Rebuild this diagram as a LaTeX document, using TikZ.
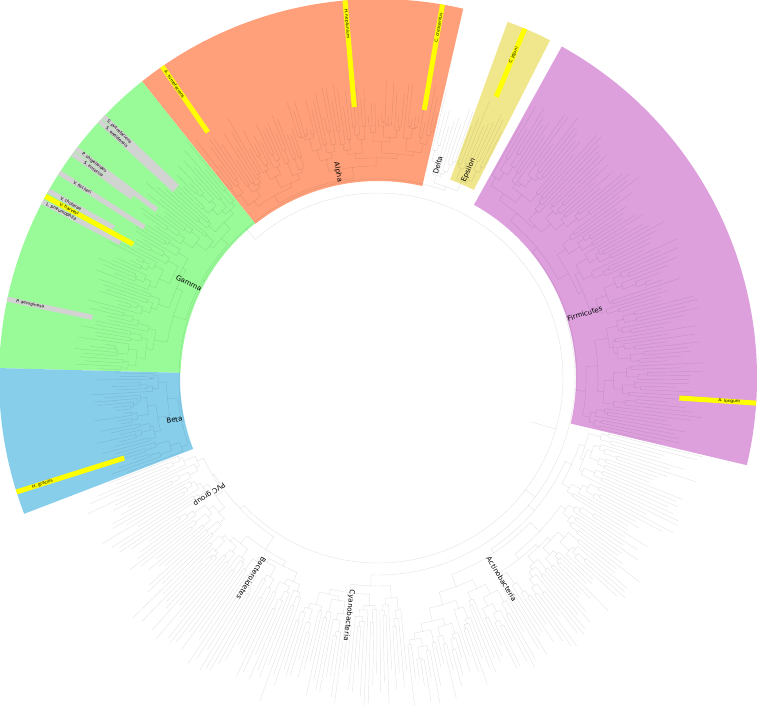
\documentclass[tikz,border=0pt]{standalone}
\usepackage{fontspec}
\setmainfont{DejaVu Sans}
\definecolor{firm}{HTML}{DDA0DD}
\definecolor{eps}{HTML}{F0E68C}
\definecolor{alph}{HTML}{FFA07A}
\definecolor{gam}{HTML}{98FB98}
\definecolor{bet}{HTML}{87CEEB}
\definecolor{hly}{HTML}{FFFF00}
\definecolor{hlg}{HTML}{D3D3D3}
\tikzset{
  tl/.style={draw=black, draw opacity=0.10, line width=0.45pt},
  sp/.style={font=\fontsize{4.3}{5}\selectfont, inner sep=0pt},
  cl/.style={font=\fontsize{7}{8}\selectfont, inner sep=0.5pt},
}
\newcommand\Tmin{280}
\newcommand\Tmax{320}
\newcommand\setTips[2]{\gdef\Tmin{#1}\gdef\Tmax{#2}}
% #1 start angle, #2 step, #3 leaves, #4 parent radius, #5 own radius
\newcommand\subtree[5]{%
  \begingroup
  \edef\pA{#1}\edef\pS{#2}\edef\pN{#3}\edef\pP{#4}\edef\pR{#5}%
  \ifnum\pN=1\relax
    \pgfmathsetmacro\ang{\pA+0.5*(\pS)}%
    \pgfmathsetmacro\tip{max(\pR,\pP+4)}%
    \draw[tl] (\ang:\pP pt) -- (\ang:\tip pt);
    \xdef\retang{\ang}%
  \else
    \pgfmathtruncatemacro\kk{max(1,min(\pN-1,round(\pN*(0.2+0.6*rnd))))}%
    \pgfmathtruncatemacro\mm{\pN-\kk}%
    \pgfmathsetmacro\aR{\pA+\kk*(\pS)}%
    \ifnum\kk=1\relax
      \pgfmathsetmacro\rL{\Tmin+(\Tmax-\Tmin)*rnd}%
    \else
      \pgfmathsetmacro\rL{max(\pR+1.5,min(\pR+3+11*rnd,\Tmin-6))}%
    \fi
    \ifnum\mm=1\relax
      \pgfmathsetmacro\rRR{\Tmin+(\Tmax-\Tmin)*rnd}%
    \else
      \pgfmathsetmacro\rRR{max(\pR+1.5,min(\pR+3+11*rnd,\Tmin-6))}%
    \fi
    \subtree{\pA}{\pS}{\kk}{\pR}{\rL}%
    \let\angL\retang
    \subtree{\aR}{\pS}{\mm}{\pR}{\rRR}%
    \let\angR\retang
    \draw[tl] (\angL:\pR pt) arc[start angle=\angL, end angle=\angR, radius=\pR pt];
    \pgfmathsetmacro\ang{0.5*(\angL+\angR)}%
    \draw[tl] (\ang:\pP pt) -- (\ang:\pR pt);
    \xdef\retang{\ang}%
  \fi
  \endgroup}
\newcommand\cladewedge[4]{\fill[#4] (#1:#3pt) arc[start angle=#1, end angle=#2, radius=#3pt] -- (#2:379pt) arc[start angle=#2, end angle=#1, radius=379pt] -- cycle;}
\newcommand\hlbar[3]{\draw[#3, line width=5pt] (#1:#2pt) -- (#1:379pt);}
\newcommand\labin[5]{\pgfmathsetmacro\rr{#2-180}\node[#5, anchor=east, rotate=\rr] (#1) at (#2:#3pt) {#4};}
\newcommand\labout[5]{\node[#5, anchor=west, rotate=#2] (#1) at (#2:#3pt) {#4};}
\begin{document}
\begin{tikzpicture}
\useasboundingbox (-378pt,-328pt) rectangle (379pt,378pt);
\fill[white] (-378pt,-328pt) rectangle (379pt,378pt);
% clade wedges
\cladewedge{-13.3}{61}{198}{firm}
\cladewedge{63}{70}{211}{eps}
\cladewedge{77}{128.5}{197}{alph}
\cladewedge{128.5}{178.5}{197.5}{gam}
\cladewedge{178.5}{201}{198}{bet}
% tree
\pgfmathsetseed{4242}
\setTips{290}{330}\subtree{-13.3}{0.743}{100}{197}{199}\global\let\angFirm\retang
\setTips{290}{335}\subtree{276}{0.7365}{96}{197}{205}\global\let\angActi\retang
\setTips{290}{330}\subtree{251}{0.735}{34}{197}{208}\global\let\angCyan\retang
\setTips{300}{345}\subtree{224}{0.75}{36}{190}{205}\global\let\angBact\retang
\setTips{280}{325}\subtree{201}{0.742}{31}{190}{192}\global\let\angPVC\retang
\setTips{255}{292}\subtree{178.5}{0.75}{30}{199}{201}\global\let\angBeta\retang
\setTips{268}{305}\subtree{128.5}{0.735}{68}{199}{201}\global\let\angGamm\retang
\setTips{258}{300}\subtree{77}{0.7357}{70}{199}{201}\global\let\angAlph\retang
\setTips{260}{300}\subtree{70}{0.778}{9}{203}{211}\global\let\angDelt\retang
\setTips{262}{302}\subtree{63}{0.778}{9}{203}{214}\global\let\angEpsi\retang
% upper levels
\pgfmathsetmacro\aDE{0.5*(\angDelt+\angEpsi)}
\draw[tl] (\angEpsi:203pt) arc[start angle=\angEpsi, end angle=\angDelt, radius=203pt];
\draw[tl] (\aDE:199pt) -- (\aDE:203pt);
\pgfmathsetmacro\aP{0.5*(\aDE+\angBeta)}
\draw[tl] (\aDE:199pt) arc[start angle=\aDE, end angle=\angBeta, radius=199pt];
\draw[tl] (\aP:185pt) -- (\aP:199pt);
\pgfmathsetmacro\aPB{0.5*(\angPVC+\angBact)}
\draw[tl] (\angPVC:190pt) arc[start angle=\angPVC, end angle=\angBact, radius=190pt];
\draw[tl] (\aPB:185pt) -- (\aPB:190pt);
\pgfmathsetmacro\aFq{\angFirm+360}
\pgfmathsetmacro\aQ{0.5*(\angCyan+\aFq)}
\draw[tl] (\angCyan:197pt) arc[start angle=\angCyan, end angle=\aFq, radius=197pt];
\draw[tl] (\aQ:185pt) -- (\aQ:197pt);
\pgfmathsetmacro\aPp{\aP+360}
\draw[tl] (\aPB:185pt) arc[start angle=\aPB, end angle=\aPp, radius=185pt];
\draw[tl] (344:160pt) -- (344:185pt);
% highlighted leaves
\hlbar{136.4}{277}{hlg}
\hlbar{137.3}{277}{hlg}
\hlbar{142.8}{278}{hlg}
\hlbar{143.7}{305}{hlg}
\hlbar{147.2}{278}{hlg}
\hlbar{150.4}{304}{hlg}
\hlbar{152.3}{291}{hlg}
\hlbar{168.0}{292}{hlg}
\hlbar{151.35}{279}{hly}
\hlbar{124.7}{299}{hly}
\hlbar{95.0}{272}{hly}
\hlbar{80.2}{272}{hly}
\hlbar{67.2}{305}{hly}
\hlbar{-3.8}{302}{hly}
\hlbar{197.5}{266}{hly}
% species labels
\labin{sput}{136.4}{341}{S. putrefaciens}{sp}
\labin{sone}{137.3}{341}{S. oneidensis}{sp}
\labin{pshi}{142.8}{341}{P. shigelloides}{sp}
\labin{sent}{143.7}{341}{S. enterica}{sp}
\labin{vfis}{147.2}{341}{V. fischeri}{sp}
\labin{vcho}{150.4}{341}{V. cholerae}{sp}
\labin{vhar}{151.35}{341}{V. harveyi}{sp}
\labin{lpne}{152.3}{341}{L. pneumophila}{sp}
\labin{paer}{168.0}{341}{P. aeruginosa}{sp}
\labin{atum}{124.7}{341}{A. tumefaciens}{sp}
\labin{hnep}{95.0}{341}{H. neptunium}{sp}
\labout{ccre}{80.2}{341}{C. crescentus}{sp}
\labout{cjej}{67.2}{341}{C. jejuni}{sp}
\labout{alon}{-3.8}{341}{A. longum}{sp}
\labin{hgra}{197.5}{341}{H. gracilis}{sp}
% clade labels
\labin{lalpha}{101}{199}{Alpha}{cl}
\labin{lgamma}{153.4}{197}{Gamma}{cl}
\labin{lbeta}{191.6}{199}{Beta}{cl}
\labout{ldelta}{74.3}{211}{Delta}{cl}
\labout{leps}{66.4}{213}{Epsilon}{cl}
\labout{lfirm}{17.3}{198}{Firmicutes}{cl}
\labout{lacti}{301.6}{210}{Actinobacteria}{cl}
\labout{lcyan}{263}{213}{Cyanobacteria}{cl}
\labout{lbact}{237.7}{212}{Bacteroidetes}{cl}
\labout{lpvc}{214.5}{186}{PVC group}{cl}
\end{tikzpicture}
\end{document}
